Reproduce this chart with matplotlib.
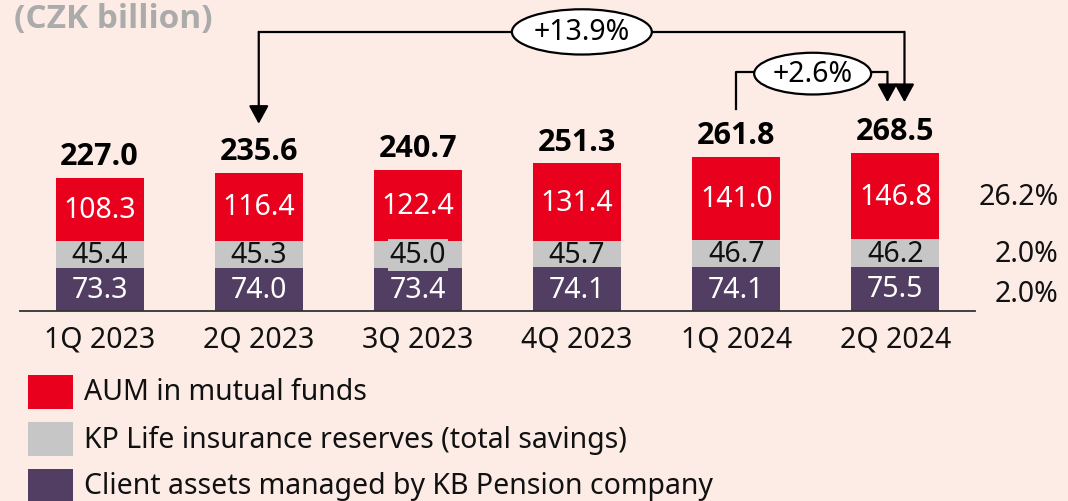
import numpy as np
import matplotlib.pyplot as plt
from matplotlib.patches import Ellipse, Rectangle

plt.rcParams['font.family'] = ['Noto Sans', 'DejaVu Sans']
bold_family = ['Open Sans', 'Lato', 'DejaVu Sans']

# Data (CZK billion)
quarters = ['1Q 2023', '2Q 2023', '3Q 2023', '4Q 2023', '1Q 2024', '2Q 2024']
pension = [73.3, 74.0, 73.4, 74.1, 74.1, 75.5]
life = [45.4, 45.3, 45.0, 45.7, 46.7, 46.2]
funds = [108.3, 116.4, 122.4, 131.4, 141.0, 146.8]
totals = [227.0, 235.6, 240.7, 251.3, 261.8, 268.5]
yoy_labels = ['26.2%', '2.0%', '2.0%']  # funds, life, pension
legend_labels = ['AUM in mutual funds',
                 'KP Life insurance reserves (total savings)',
                 'Client assets managed by KB Pension company']

bg = '#FDECE6'
c_red = '#E8001C'
c_gray = '#C6C6C6'
c_purple = '#523E63'
fs = 20.5

fig = plt.figure(figsize=(10.68, 5.02), dpi=100, facecolor=bg)
ax = fig.add_axes([20 / 1068, 190 / 502, 955 / 1068, 312 / 502])
ax.set_facecolor(bg)

x = np.arange(len(quarters))
pension = np.array(pension)
life = np.array(life)
funds = np.array(funds)
w = 0.553

ax.bar(x, pension, w, color=c_purple, zorder=2)
ax.bar(x, life, w, bottom=pension, color=c_gray, zorder=2)
ax.bar(x, funds, w, bottom=pension + life, color=c_red, zorder=2)

for i in range(len(x)):
    ax.text(x[i], pension[i] / 2, f'{pension[i]:.1f}', ha='center', va='center',
            color='white', fontsize=fs, zorder=3)
    kw = {}
    if i == 2:
        kw['bbox'] = dict(facecolor=c_gray, edgecolor='none', pad=1)
    ax.text(x[i], pension[i] + life[i] / 2, f'{life[i]:.1f}', ha='center', va='center',
            color='#111111', fontsize=fs, zorder=3, **kw)
    ax.text(x[i], pension[i] + life[i] + funds[i] / 2, f'{funds[i]:.1f}', ha='center',
            va='center', color='white', fontsize=fs, zorder=3)
    ax.text(x[i], totals[i] + 37, f'{totals[i]:.1f}', ha='center', va='center',
            color='black', fontsize=22, fontweight='bold', family=bold_family, zorder=3)

# YoY growth on the right
last = len(x) - 1
ys = [pension[last] + life[last] + funds[last] / 2, pension[last] + life[last] / 2,
      pension[last] / 2 - 8]
for lab, yy in zip(yoy_labels, ys):
    ax.text(6.025, yy, lab, ha='right', va='center', fontsize=fs, color='#111111',
            clip_on=False)

ax.set_xlim(-0.5, 5.5)
ax.set_ylim(0, 531)
for s in ['top', 'right', 'left']:
    ax.spines[s].set_visible(False)
ax.spines['bottom'].set_color('#333333')
ax.spines['bottom'].set_linewidth(1.3)
ax.set_yticks([])
ax.set_xticks(x)
ax.set_xticklabels(quarters, fontsize=fs, color='#111111')
ax.tick_params(axis='x', length=0, pad=10)

# Growth arrows
arrow_kw = dict(arrowstyle='-|>,head_length=0.55,head_width=0.3', color='black',
                lw=1.6, shrinkA=0, shrinkB=0, mutation_scale=20)
y_big = 475
y_small = 407
x_r = 5.057
x_s = 4.95
ax.plot([1, x_r], [y_big, y_big], color='black', lw=1.6, zorder=4, clip_on=False)
ax.annotate('', xy=(1, totals[1] + 83), xytext=(1, y_big), arrowprops=arrow_kw,
            zorder=4)
ax.annotate('', xy=(x_r, totals[5] + 87), xytext=(x_r, y_big), arrowprops=arrow_kw,
            zorder=4)
ax.add_patch(Ellipse((3.03, y_big), 0.879, 77, facecolor='white', edgecolor='black',
                     lw=1.6, zorder=5))
ax.text(3.03, y_big, '+13.9%', ha='center', va='center', fontsize=fs, zorder=6)

ax.plot([4, 4, x_s], [totals[4] + 82, y_small, y_small], color='black', lw=1.6, zorder=4)
ax.annotate('', xy=(x_s, totals[5] + 87), xytext=(x_s, y_small), arrowprops=arrow_kw,
            zorder=4)
ax.add_patch(Ellipse((4.48, y_small - 3), 0.735, 71, facecolor='white', edgecolor='black',
                     lw=1.6, zorder=5))
ax.text(4.48, y_small - 3, '+2.6%', ha='center', va='center', fontsize=fs, zorder=6)

# Title
fig.text(14 / 1068, (502 - 28) / 502, '(CZK billion)', fontsize=24, fontweight='bold',
         family=bold_family, color='#ABABAB', ha='left', va='baseline')

# Legend
colors = [c_red, c_gray, c_purple]
for k, (lab, col) in enumerate(zip(legend_labels, colors)):
    yc = 393 + 47 * k
    fig.patches.append(Rectangle((28 / 1068, (502 - yc - 17) / 502), 45 / 1068, 34 / 502,
                                 transform=fig.transFigure, facecolor=col,
                                 edgecolor='none'))
    fig.text(84 / 1068, (502 - yc) / 502, lab, fontsize=fs, color='#111111',
             ha='left', va='center')

fig.savefig('out.png', dpi=100, facecolor=bg)
